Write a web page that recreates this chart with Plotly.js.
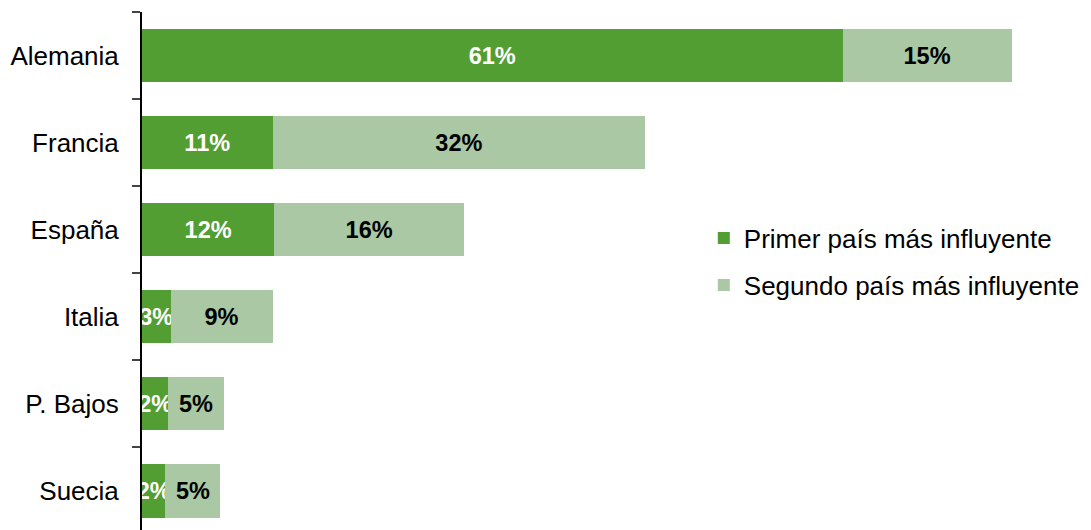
<!DOCTYPE html>
<html><head><meta charset="utf-8">
<script src="https://cdn.plot.ly/plotly-3.0.1.min.js"></script>
<style>html,body{margin:0;padding:0;background:#fff}#chart{width:1091px;height:530px}</style>
</head><body><div id="chart"></div>
<script>
const categories = ["Alemania", "Francia", "España", "Italia", "P. Bajos", "Suecia"];
const primerValues = [60.9, 11.35, 11.5, 2.48, 2.3, 2.04];
const segundoValues = [14.7, 32.4, 16.5, 8.87, 4.79, 4.78];
const primerLabels = ["61%", "11%", "12%", "3%", "2%", "2%"];
const segundoLabels = ["15%", "32%", "16%", "9%", "5%", "5%"];
const seriesNames = ["Primer país más influyente", "Segundo país más influyente"];

const FONT = 'Liberation Sans, Arial, Helvetica, sans-serif';
const common = {
  type: 'bar', orientation: 'h', y: categories,
  textposition: 'inside', insidetextanchor: 'middle', textangle: 0,
  constraintext: 'none', cliponaxis: false, hoverinfo: 'none'
};
const data = [
  Object.assign({}, common, {
    x: primerValues, text: primerLabels, name: seriesNames[0], legendgroup: 'a',
    marker: {color: '#529e32', line: {width: 0}},
    insidetextfont: {family: FONT, size: 23.5, color: '#ffffff', weight: 'bold'},
    textfont: {family: FONT, size: 23.5, color: '#ffffff', weight: 'bold'}
  }),
  Object.assign({}, common, {
    x: segundoValues, text: segundoLabels, name: seriesNames[1], legendgroup: 'b',
    marker: {color: '#a9c8a3', line: {width: 0}},
    insidetextfont: {family: FONT, size: 23.5, color: '#000000', weight: 'bold'},
    textfont: {family: FONT, size: 23.5, color: '#000000', weight: 'bold'}
  })
];
const layout = {
  width: 1091, height: 530,
  margin: {l: 142, r: 0, t: 12, b: 0, pad: 0},
  barmode: 'stack', bargap: 0.39,
  paper_bgcolor: '#ffffff', plot_bgcolor: '#ffffff',
  font: {family: FONT, size: 26, color: '#000000'},
  showlegend: true,
  legend: {x: 0.592, y: 0.518, xanchor: 'left', yanchor: 'middle', traceorder: 'grouped', tracegroupgap: 10,
           font: {size: 26, color: '#000000'}, bgcolor: 'rgba(0,0,0,0)'},
  xaxis: {range: [0, 82.5], visible: false, fixedrange: true},
  yaxis: {type: 'category', range: [5.448, -0.5], tickson: 'boundaries', ticks: 'outside', ticklen: 8,
          tickcolor: '#444444', tickwidth: 2, showline: true, linecolor: '#000000', linewidth: 2,
          showgrid: false, zeroline: false, ticklabelstandoff: 16, tickfont: {size: 26, color: '#000000'}}
};
Plotly.newPlot('chart', data, layout, {displayModeBar: false, staticPlot: true});
</script></body></html>
